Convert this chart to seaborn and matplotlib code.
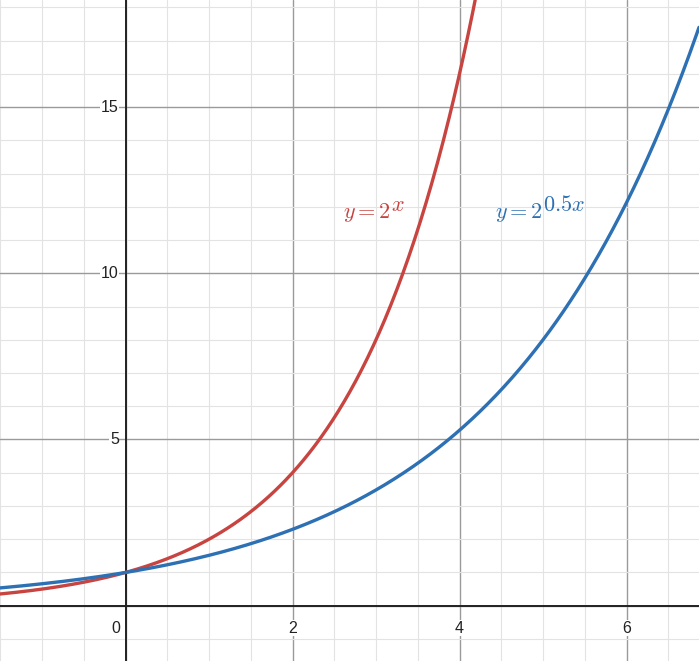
import numpy as np
import pandas as pd
import matplotlib
matplotlib.use("Agg")
import matplotlib.pyplot as plt
import seaborn as sns

# curves y = 2^(k*x), k
curve_names = ["red", "blue"]
exponent_k = [1.0, 0.6]
curve_colors = ["#c74440", "#2d70b3"]
label_main = [r"$y=2$", r"$y=2$"]
label_sup = [r"$x$", r"$0.5x$"]
label_pos = [(2.6, 11.65), (4.42, 11.65)]

x_ticks = [0, 2, 4, 6]
y_ticks = [5, 10, 15]

xmin, xmax = -1.503, 6.868
ymin, ymax = -1.663, 18.22

xs = np.linspace(xmin, xmax, 600)
rows = []
for name, k in zip(curve_names, exponent_k):
    for x in xs:
        rows.append({"x": x, "y": 2 ** (k * x), "curve": name})
df = pd.DataFrame(rows)

sns.set_style("white")
plt.rcParams["font.family"] = ["Liberation Sans", "DejaVu Sans"]
plt.rcParams["mathtext.fontset"] = "cm"

fig = plt.figure(figsize=(6.99, 6.61), dpi=100)
ax = fig.add_axes([0, 0, 1, 1])

# grid
for gx in np.arange(-1.5, 7, 0.5):
    major = abs(gx % 2) < 1e-9
    ax.axvline(gx, color="#9a9a9a" if major else "#e3e3e3", lw=1.0 if major else 0.8, zorder=0)
for gy in np.arange(-1, 19, 1):
    major = gy % 5 == 0
    ax.axhline(gy, color="#9a9a9a" if major else "#e3e3e3", lw=1.0 if major else 0.8, zorder=0)
ax.axhline(0, color="#222222", lw=1.4, zorder=1)
ax.axvline(0, color="#222222", lw=1.4, zorder=1)

sns.lineplot(data=df, x="x", y="y", hue="curve", palette=dict(zip(curve_names, curve_colors)),
             linewidth=2.4, legend=False, ax=ax, zorder=3, sort=False)

for main, sup, (lx, ly), c in zip(label_main, label_sup, label_pos, curve_colors):
    t = ax.text(lx, ly, main, color=c, fontsize=16, ha="left", va="baseline", zorder=4)
    ax.annotate(sup, xy=(1, 0), xycoords=t, xytext=(0.5, 10), textcoords="offset points",
                color=c, fontsize=16, ha="left", va="baseline", zorder=4)

# tick labels
for t in x_ticks:
    if t == 0:
        ax.text(-0.06, -0.45, "0", ha="right", va="top", fontsize=11.5, color="#222222")
    else:
        ax.text(t, -0.45, str(t), ha="center", va="top", fontsize=11.5, color="#222222",
                bbox=dict(facecolor="white", edgecolor="none", pad=0.5))
for t in y_ticks:
    ax.text(-0.08, t, str(t), ha="right", va="center", fontsize=11.5, color="#222222",
            bbox=dict(facecolor="white", edgecolor="none", pad=0.5))

ax.set_xlim(xmin, xmax)
ax.set_ylim(ymin, ymax)
ax.set_xticks([])
ax.set_yticks([])
ax.set_xlabel("")
ax.set_ylabel("")
for s in ax.spines.values():
    s.set_visible(False)

fig.savefig("out.png", dpi=100)
